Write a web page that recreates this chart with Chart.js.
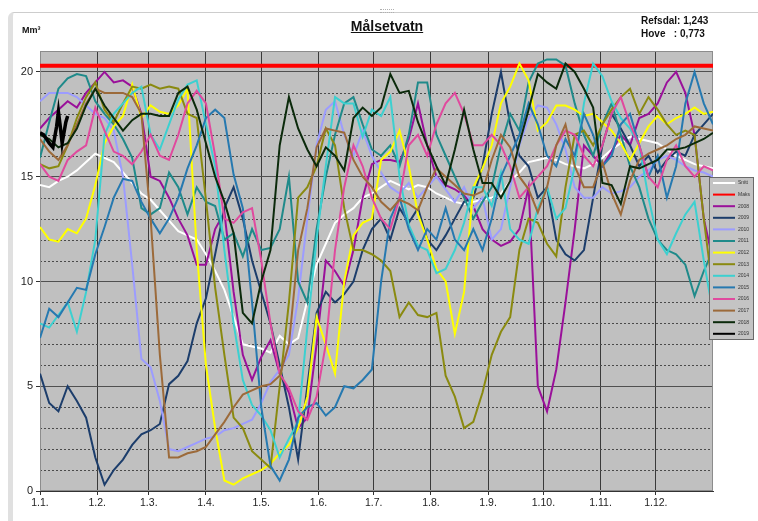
<!DOCTYPE html>
<html>
<head>
<meta charset="utf-8">
<script src="https://cdn.jsdelivr.net/npm/chart.js@4.4.1/dist/chart.umd.min.js"></script>
<style>
  html, body { margin: 0; padding: 0; background: #ffffff; }
  #wrap { position: relative; width: 758px; height: 521px; overflow: hidden;
          font-family: Arial, "Liberation Sans", sans-serif; }
  #frame { position: absolute; left: 8px; top: 12px; width: 770px; height: 530px;
           border-top: 1px solid #cdcdcd; border-left: 5px solid #e0e0e0;
           border-top-left-radius: 6px; box-sizing: border-box; }
  #grip { position: absolute; left: 380px; top: 9px; width: 14px; height: 2px;
          border-top: 1px dotted #b0b0b0; border-bottom: 1px dotted #b0b0b0; }
  canvas { position: absolute; left: 0; top: 0; }
  .t { position: absolute; color: #111; font-weight: bold; white-space: pre; }
</style>
</head>
<body>
<div id="wrap">
  <div id="frame"></div>
  <div id="grip"></div>
  <canvas id="c" width="758" height="521"></canvas>
  <div class="t" style="left:22px; top:25px; font-size:9px;">Mm³</div>
  <div class="t" style="left:0; width:774px; text-align:center; top:18px; font-size:14px; text-decoration:underline;">Målsetvatn</div>
  <div class="t" style="left:641px; top:14px; font-size:10px; line-height:13px;">Refsdal: 1,243
Hove   : 0,773</div>
</div>

<script>
// Day of year for each sample (every fifth day)
const days = [0,5,10,15,20,25,30,35,40,45,50,55,60,65,70,75,80,85,90,95,
  100,105,110,115,120,125,130,135,140,145,150,155,160,165,170,175,180,185,190,195,
  200,205,210,215,220,225,230,235,240,245,250,255,260,265,270,275,280,285,290,295,
  300,305,310,315,320,325,330,335,340,345,350,355,360,365];

// Month starts on the day axis and their labels
const monthStartDays = [0,31,59,90,120,151,181,212,243,273,304,334];
const monthLabels = ['1.1.','1.2.','1.3.','1.4.','1.5.','1.6.','1.7.','1.8.','1.9.','1.10.','1.11.','1.12.'];

// Highest regulated level
const maksDays = [0, 365];
const maks = [20.3, 20.3];

// Reservoir content, Mm³
const snitt = [14.6,14.5,14.8,15.0,15.3,15.7,16.1,15.9,15.7,15.2,
  14.7,14.2,13.9,13.4,12.9,12.4,12.2,12.0,11.3,10.5,
  9.6,8.3,7.0,6.9,6.8,6.6,7.4,7.0,7.3,9.1,
  10.8,11.8,12.8,13.2,13.5,14.0,14.2,14.5,14.8,14.6,
  14.4,14.6,14.5,14.2,14.0,13.8,13.7,13.8,13.9,14.0,
  14.2,14.8,15.2,15.7,15.8,15.9,15.8,15.6,15.5,15.4,
  15.6,15.9,16.3,16.6,16.9,16.8,16.7,16.6,16.3,16.0,
  15.8,15.6,15.5,15.4];

const y2008 = [17.3,17.8,18.2,18.6,18.3,19.0,19.5,20.0,19.5,19.6,
  19.3,18.0,15.0,14.8,14.0,13.0,12.2,10.8,10.8,12.5,
  13.3,9.5,6.5,5.3,6.4,7.2,5.6,4.7,3.0,3.5,
  7.0,11.0,10.5,9.8,11.5,14.0,15.6,15.8,15.8,15.7,
  16.8,18.5,16.5,15.0,14.6,14.4,14.1,13.6,12.5,12.0,
  11.7,11.9,12.5,14.5,5.0,3.8,5.8,9.0,12.5,16.5,
  16.0,15.5,16.2,17.0,16.5,17.8,18.0,18.5,19.5,20.0,
  19.0,17.0,13.0,11.0];

const y2009 = [5.6,4.2,3.8,5.0,4.3,3.5,1.6,0.3,1.0,1.5,
  2.2,2.7,2.9,3.2,5.1,5.5,6.2,8.0,9.2,11.3,
  13.5,14.5,13.0,11.0,9.5,8.0,6.0,4.0,1.5,5.0,
  8.5,9.5,9.0,9.4,10.0,11.5,12.5,13.0,12.0,13.5,
  12.8,13.5,12.0,11.5,12.2,13.0,13.8,14.0,15.5,18.0,
  20.0,17.5,16.0,15.5,14.0,14.5,12.0,11.3,11.0,11.5,
  14.0,16.5,18.0,17.3,16.5,15.5,16.0,15.2,15.8,16.2,
  16.0,17.0,17.5,18.0];

const y2010 = [18.6,19.0,19.0,19.0,18.8,18.4,18.0,17.8,17.2,15.0,
  10.8,6.3,5.9,4.3,2.0,1.9,2.1,2.3,2.5,2.6,
  2.9,3.0,3.2,3.4,4.2,5.2,5.8,6.5,9.2,13.0,
  16.5,18.2,18.6,17.0,16.0,17.2,16.0,15.2,14.5,14.2,
  14.7,14.0,14.5,15.0,14.4,13.8,14.5,13.5,14.0,12.0,
  12.5,14.5,16.5,17.8,18.4,18.3,17.5,16.3,14.5,14.0,
  14.0,14.5,14.2,14.3,14.5,15.0,15.3,15.8,16.0,15.8,
  15.5,15.3,15.2,15.0];

const y2011 = [15.9,17.6,19.2,19.7,19.9,19.8,18.6,18.0,17.5,16.8,
  15.9,13.5,13.2,13.5,15.2,14.5,13.2,14.5,13.8,13.6,
  12.0,12.3,11.2,12.5,11.5,11.6,12.5,15.0,10.0,9.0,
  12.5,15.0,17.0,18.5,18.8,17.5,16.3,16.0,16.5,15.5,
  17.0,19.5,19.5,17.0,16.0,15.0,14.0,13.0,13.8,14.5,
  16.5,18.0,17.2,19.5,20.4,20.6,20.6,20.3,18.5,17.0,
  16.0,17.5,18.5,17.0,15.5,14.5,13.0,12.0,11.5,11.3,
  10.8,9.3,10.5,11.5];

const y2012 = [12.6,12.0,11.9,12.5,12.3,13.0,14.6,16.6,17.4,17.9,
  19.4,17.8,18.4,18.1,18.0,18.4,19.2,11.5,6.0,3.0,
  0.5,0.3,0.6,0.8,1.0,1.3,1.8,2.2,3.0,4.5,
  8.3,7.0,5.6,10.0,12.2,12.8,13.0,15.8,16.2,17.2,
  15.5,13.2,12.0,10.6,10.0,7.5,9.5,14.5,15.4,16.5,
  18.5,19.3,20.4,19.6,17.2,17.6,18.4,18.4,18.2,17.9,
  18.0,17.6,17.2,16.6,15.8,16.6,17.4,17.9,17.5,17.8,
  18.0,18.3,18.0,18.1];

const y2013 = [15.6,15.4,15.5,16.5,17.8,18.8,19.5,18.2,17.6,18.5,
  19.3,19.2,19.4,19.2,19.3,19.2,18.0,17.8,13.9,9.7,
  6.5,3.5,3.0,1.9,1.5,1.1,5.0,9.0,14.0,14.5,
  15.5,17.3,16.5,13.5,11.5,11.5,11.3,11.0,10.5,8.3,
  9.0,8.4,8.3,8.5,5.5,4.5,3.0,3.3,4.7,6.5,
  7.6,8.3,11.5,13.0,12.8,11.8,11.2,14.5,17.0,17.2,
  16.5,17.5,18.2,18.8,19.2,18.0,18.8,18.2,17.5,17.0,
  17.2,17.0,13.0,9.5];

const y2014 = [8.0,7.8,8.4,9.0,7.6,9.5,12.0,17.0,18.0,18.5,
  19.0,19.3,17.0,16.3,17.5,18.7,19.4,19.6,17.5,15.5,
  11.5,8.0,5.3,4.1,3.6,2.9,1.6,2.5,3.3,7.8,
  12.0,15.5,18.8,18.5,18.5,16.9,18.2,17.9,18.8,15.0,
  12.7,11.7,11.5,10.4,10.6,11.5,12.8,14.5,14.5,13.6,
  15.2,12.5,12.0,11.8,13.5,14.5,13.0,13.5,15.5,18.5,
  20.4,19.8,18.6,17.8,17.3,16.5,14.0,12.0,11.3,12.3,
  13.2,13.8,11.0,8.5];

const y2015 = [7.3,8.7,8.3,9.0,9.7,9.6,11.3,12.6,14.0,14.9,
  14.8,13.8,13.0,12.3,13.0,14.0,15.4,16.5,17.8,18.2,
  17.8,15.1,13.5,9.0,4.0,1.2,0.5,1.5,3.5,4.0,
  4.2,3.6,4.0,5.0,4.9,5.3,5.8,10.0,13.0,14.0,
  12.5,11.5,12.5,12.0,13.5,12.0,11.5,12.5,11.5,13.0,
  15.0,16.0,17.0,18.5,17.5,16.0,15.5,16.8,16.0,18.0,
  17.0,15.5,16.0,17.5,18.0,16.5,15.0,16.0,14.0,15.5,
  18.5,20.0,18.5,17.5];

const y2016 = [15.6,15.0,14.8,15.8,16.2,16.5,18.3,17.2,16.2,16.0,
  15.6,16.2,17.0,16.0,15.8,17.0,18.5,19.1,18.5,16.0,
  13.0,12.8,13.3,13.5,11.0,8.0,5.6,4.9,3.8,3.4,
  4.5,7.0,11.5,14.5,16.5,15.5,14.0,13.0,12.5,14.0,
  16.5,17.0,16.0,17.5,18.5,19.0,18.0,16.5,16.5,17.0,
  16.5,15.5,14.0,14.5,15.0,15.5,16.5,17.2,17.0,16.0,
  15.5,16.5,18.0,18.8,17.5,16.5,15.0,14.5,15.8,16.5,
  15.5,15.0,15.5,15.3];

const y2017 = [16.8,16.2,15.8,16.5,17.5,18.5,19.2,19.0,19.0,19.0,
  18.8,18.0,13.0,6.5,1.6,1.6,1.8,1.9,2.1,2.7,
  3.3,4.0,4.6,4.8,5.0,5.1,5.5,7.0,11.5,13.5,
  16.4,17.3,17.2,17.1,15.8,15.0,14.5,13.8,13.4,13.9,
  13.7,13.4,14.5,15.4,15.0,14.6,14.2,14.1,14.3,15.8,
  17.0,16.4,15.0,14.4,13.3,14.5,16.5,17.5,15.5,14.5,
  14.5,15.7,14.2,13.2,14.8,15.8,16.1,16.3,16.5,16.8,
  17.0,17.4,17.3,17.2];

const y2018 = [17.0,16.8,16.4,16.6,17.3,18.4,19.2,18.4,17.8,17.2,
  17.7,18.0,18.0,17.9,17.9,19.0,19.3,18.2,16.6,15.0,
  13.8,12.3,8.5,8.0,10.0,11.5,16.5,18.8,17.3,16.3,
  15.5,16.4,16.0,15.3,17.8,18.3,17.9,18.3,19.9,19.0,
  19.1,17.6,16.5,15.5,14.6,16.3,18.2,16.3,14.7,14.7,
  14.0,14.8,16.6,18.2,19.9,19.5,19.2,20.4,20.0,19.2,
  18.3,14.7,14.6,13.7,15.5,15.4,15.6,15.8,16.3,16.3,
  16.4,16.6,16.8,17.1];

// 2019 so far
const days2019 = [0,2,5,7,9,10,11,12,14,15];
const y2019 = [17.1,17.0,16.6,16.4,17.4,18.1,17.4,16.6,17.6,17.9];

const series = [
  { label: 'Snitt', x: days,     y: snitt, color: '#ffffff', width: 2 },
  { label: 'Maks',  x: maksDays, y: maks,  color: '#ff0000', width: 4 },
  { label: '2008',  x: days, y: y2008, color: '#9a109a', width: 2 },
  { label: '2009',  x: days, y: y2009, color: '#1c3d6b', width: 2 },
  { label: '2010',  x: days, y: y2010, color: '#9c9cff', width: 2 },
  { label: '2011',  x: days, y: y2011, color: '#1f8a8a', width: 2 },
  { label: '2012',  x: days, y: y2012, color: '#ffff00', width: 2 },
  { label: '2013',  x: days, y: y2013, color: '#8a8a10', width: 2 },
  { label: '2014',  x: days, y: y2014, color: '#3cd0d0', width: 2 },
  { label: '2015',  x: days, y: y2015, color: '#2679b0', width: 2 },
  { label: '2016',  x: days, y: y2016, color: '#e04a9e', width: 2 },
  { label: '2017',  x: days, y: y2017, color: '#9c6a3a', width: 2 },
  { label: '2018',  x: days, y: y2018, color: '#0b2a0b', width: 2 },
  { label: '2019',  x: days2019, y: y2019, color: '#000000', width: 3.5 }
];

const datasets = series.map((s, i) => ({
  label: s.label,
  data: s.x.map((d, k) => ({ x: d, y: s.y[k] })),
  borderColor: s.color,
  backgroundColor: s.color,
  borderWidth: s.width,
  pointRadius: 0,
  tension: 0,
  fill: false,
  order: -i            // later years are painted on top
}));

// grey plot area, dashed minor grid and frame
const plotBackdrop = {
  id: 'plotBackdrop',
  beforeDraw(chart) {
    const { ctx, chartArea: a } = chart;
    ctx.save();
    ctx.fillStyle = '#c0c0c0';
    ctx.fillRect(a.left, a.top, a.right - a.left, a.bottom - a.top);
    ctx.restore();
  },
  beforeDatasetsDraw(chart) {
    const { ctx, chartArea: a, scales } = chart;
    ctx.save();
    ctx.strokeStyle = '#4a4a4a';
    ctx.lineWidth = 1;
    ctx.setLineDash([2, 2]);
    scales.y.ticks.forEach(t => {
      if (t.value % 5 === 0 || t.value >= scales.y.max) return;
      const y = Math.round(scales.y.getPixelForValue(t.value)) + 0.5;
      ctx.beginPath();
      ctx.moveTo(a.left, y);
      ctx.lineTo(a.right, y);
      ctx.stroke();
    });
    ctx.setLineDash([]);
    ctx.strokeStyle = '#8c8c8c';
    ctx.strokeRect(a.left + 0.5, a.top + 0.5, a.right - a.left - 1, a.bottom - a.top - 1);
    ctx.restore();
  }
};

// boxed legend at the right edge
const sideLegend = {
  id: 'sideLegend',
  afterDraw(chart) {
    const { ctx } = chart;
    const bx = 709, by = 177, bw = 45, bh = 163;
    ctx.save();
    ctx.fillStyle = '#c4c4c4';
    ctx.fillRect(bx, by, bw, bh);
    ctx.strokeStyle = '#6a6a6a';
    ctx.lineWidth = 1;
    ctx.strokeRect(bx + 0.5, by + 0.5, bw - 1, bh - 1);
    ctx.font = '5px Arial, "Liberation Sans", sans-serif';
    ctx.textBaseline = 'middle';
    chart.data.datasets.forEach((ds, i) => {
      const y = by + 6 + i * 11.6;
      ctx.strokeStyle = ds.borderColor;
      ctx.lineWidth = Math.min(ds.borderWidth, 2);
      ctx.beginPath();
      ctx.moveTo(bx + 4, y);
      ctx.lineTo(bx + 26, y);
      ctx.stroke();
      ctx.fillStyle = '#333333';
      ctx.fillText(ds.label, bx + 29, y);
    });
    ctx.restore();
  }
};

new Chart(document.getElementById('c'), {
  type: 'line',
  data: { datasets },
  plugins: [plotBackdrop, sideLegend],
  options: {
    responsive: false,
    animation: false,
    devicePixelRatio: 1,
    layout: { padding: { left: 0, top: 51, right: 45, bottom: 0 } },
    plugins: { legend: { display: false }, tooltip: { enabled: false }, title: { display: false } },
    scales: {
      x: {
        type: 'linear',
        min: 0,
        max: 365,
        afterBuildTicks: s => { s.ticks = monthStartDays.map(v => ({ value: v })); },
        afterFit: s => { s.height = 30; },
        ticks: {
          autoSkip: false,
          maxRotation: 0,
          padding: 2,
          color: '#222222',
          font: { family: 'Arial, "Liberation Sans", sans-serif', size: 10.5 },
          callback: v => monthLabels[monthStartDays.indexOf(v)]
        },
        grid: { color: '#3a3a3a', lineWidth: 1, tickLength: 4, tickColor: '#333333' },
        border: { color: '#333333', width: 1 }
      },
      y: {
        min: 0,
        max: 21,
        afterFit: s => { s.width = 40; },
        ticks: {
          stepSize: 1,
          autoSkip: false,
          padding: 3,
          color: '#222222',
          font: { family: 'Arial, "Liberation Sans", sans-serif', size: 11 },
          callback: v => (v % 5 === 0 ? String(v) : '')
        },
        grid: {
          lineWidth: 1,
          tickLength: 4,
          color: c => (c.tick && c.tick.value % 5 === 0 ? '#505050' : 'rgba(0,0,0,0)'),
          tickColor: c => (c.tick && c.tick.value % 5 === 0 ? '#333333' : 'rgba(0,0,0,0)')
        },
        border: { color: '#333333', width: 1 }
      }
    }
  }
});
</script>
</body>
</html>
